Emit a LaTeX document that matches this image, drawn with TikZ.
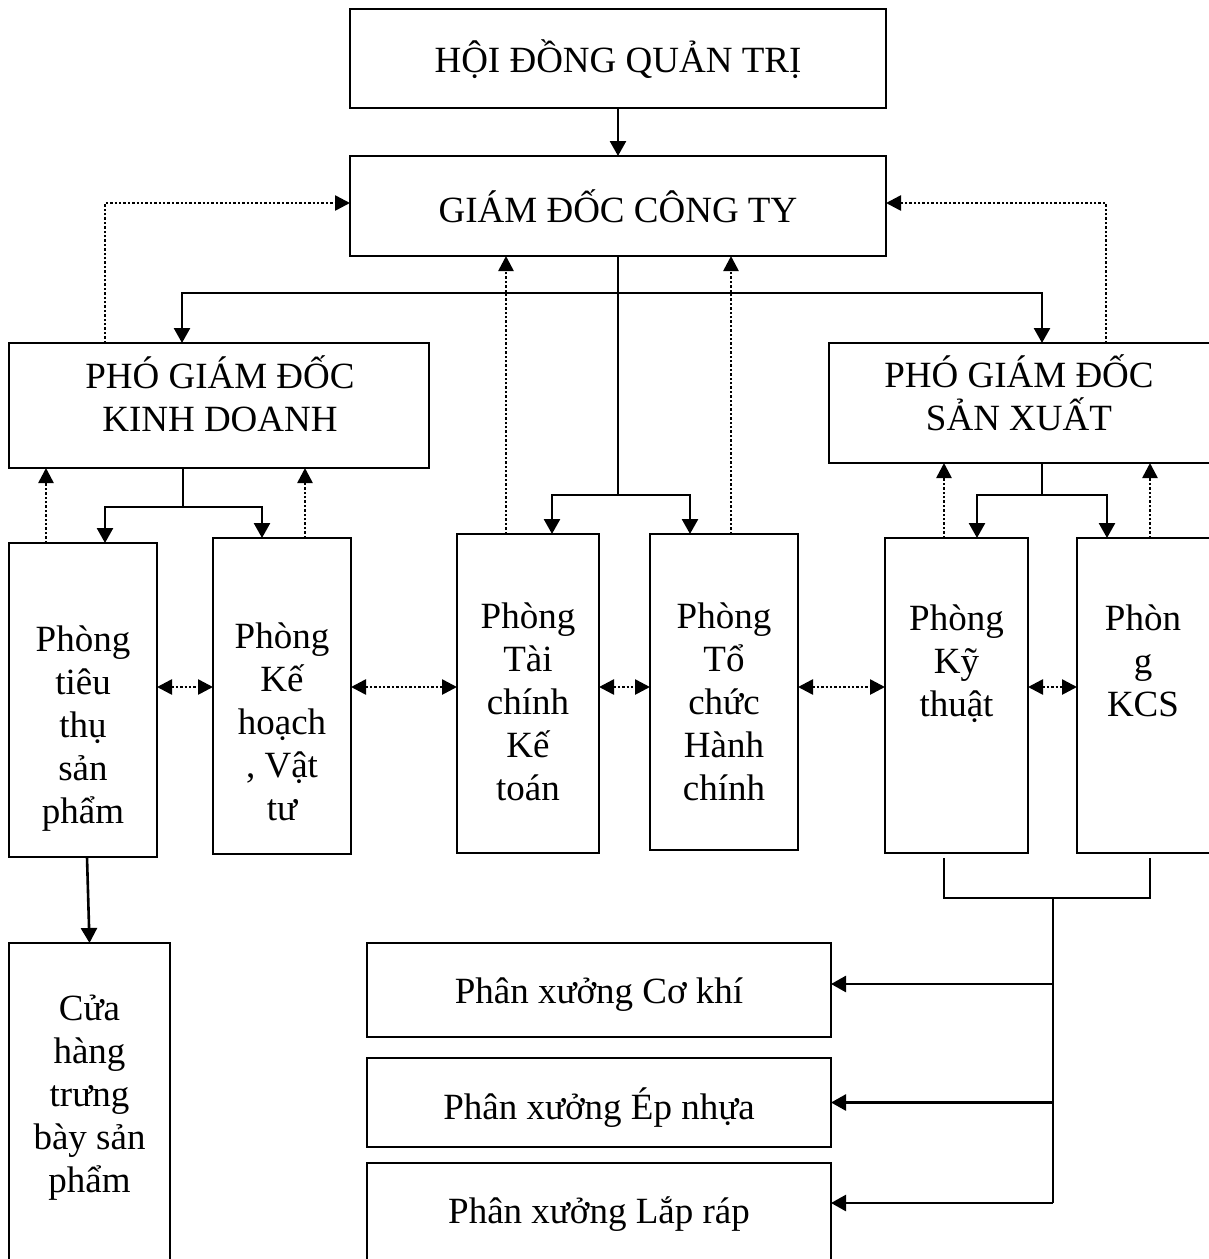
\documentclass[tikz,border=0pt]{standalone}
\usepackage{fontspec}
\setmainfont{Liberation Serif}
\usetikzlibrary{arrows.meta}
\newcommand\tl[1]{\begin{tabular}[t]{@{}c@{}}#1\end{tabular}}
\newcommand\sm[1]{\smash{#1}}
\begin{document}
\begin{tikzpicture}[x=1pt,y=-1pt,
  box/.style={draw, line width=2.2pt, inner sep=0pt, outer sep=0pt, rectangle},
  txt/.style={inner sep=0pt, anchor=base, font=\fontsize{37}{43}\selectfont},
  sarr/.style={line width=2.6pt, -{Triangle[length=15pt,width=16pt]}},
  sline/.style={line width=2.4pt},
  darr/.style={line width=2.6pt, dash pattern=on 2.4pt off 2pt, -{Triangle[length=15pt,width=15pt]}},
  ddarr/.style={line width=2.6pt, dash pattern=on 2.4pt off 2pt, {Triangle[length=15pt,width=15pt]}-{Triangle[length=15pt,width=15pt]}},
]
\useasboundingbox (0,0) rectangle (1209,1259);
\clip (0,0) rectangle (1209,1259);
\fill[white] (0,0) rectangle (1209,1259);

% boxes
\node[box, minimum width=536pt, minimum height=99pt]  (hdqt) at (618,58.5) {};
\node[box, minimum width=536pt, minimum height=100pt] (gd)   at (618,206) {};
\node[box, minimum width=420pt, minimum height=125pt] (kd)   at (219,405.5) {};
\node[box, minimum width=381pt, minimum height=120pt] (sx)   at (1019.5,403) {};
\node[box, minimum width=148pt, minimum height=314pt] (tt)   at (83,700) {};
\node[box, minimum width=138pt, minimum height=316pt] (kh)   at (282,696) {};
\node[box, minimum width=142pt, minimum height=319pt] (tc)   at (528,693.5) {};
\node[box, minimum width=148pt, minimum height=316pt] (tch)  at (724,692) {};
\node[box, minimum width=143pt, minimum height=315pt] (kt)   at (956.5,695.5) {};
\node[box, minimum width=133pt, minimum height=315pt] (kcs)  at (1143.5,695.5) {};
\node[box, minimum width=161pt, minimum height=322pt] (ch)   at (89.5,1104) {};
\node[box, minimum width=464pt, minimum height=94pt]  (px1)  at (599,990) {};
\node[box, minimum width=464pt, minimum height=89pt]  (px2)  at (599,1102.5) {};
\node[box, minimum width=464pt, minimum height=102pt] (px3)  at (599,1214) {};

% texts
\node[txt] (thdqt) at (618,72) {HỘI ĐỒNG QUẢN TRỊ};
\node[txt] (tgd) at (618,222) {GIÁM ĐỐC CÔNG TY};
\node[txt] (tkd) at (220,388) {\tl{PHÓ GIÁM ĐỐC\\\sm{KINH DOANH}}};
\node[txt] (tsx) at (1019,387) {\tl{PHÓ GIÁM ĐỐC\\\sm{SẢN XUẤT}}};
\node[txt] (ttt) at (83,651) {\tl{Phòng\\\sm{tiêu}\\\sm{thụ}\\\sm{sản}\\\sm{phẩm}}};
\node[txt] (tkh) at (282,648) {\tl{Phòng\\\sm{Kế}\\\sm{hoạch}\\\sm{, Vật}\\\sm{tư}}};
\node[txt] (ttc) at (528,628) {\tl{Phòng\\\sm{Tài}\\\sm{chính}\\\sm{Kế}\\\sm{toán}}};
\node[txt] (ttch) at (724,628) {\tl{Phòng\\\sm{Tổ}\\\sm{chức}\\\sm{Hành}\\\sm{chính}}};
\node[txt] (tkt) at (956.5,630) {\tl{Phòng\\\sm{Kỹ}\\\sm{thuật}}};
\node[txt] (tkcs) at (1143,630) {\tl{Phòn\\\sm{g}\\\sm{KCS}}};
\node[txt] (tcuahang) at (89.5,1020) {\tl{Cửa\\\sm{hàng}\\\sm{trưng}\\\sm{bày sản}\\\sm{phẩm}}};
\node[txt] (tpx1) at (599,1003) {Phân xưởng Cơ khí};
\node[txt] (tpx2) at (599,1119) {Phân xưởng Ép nhựa};
\node[txt] (tpx3) at (599,1223) {Phân xưởng Lắp ráp};

% solid connectors
\draw[sarr] (hdqt.south) -- (gd.south |- gd.north);
\draw[sarr] (gd.south) -- ++(0,37) -| ([xshift=-37pt]kd.north);
\draw[sarr] (gd.south) -- ++(0,37) -| ([xshift=22.5pt]sx.north);
\draw[sarr] (gd.south) -- ++(0,239) -| ([xshift=24pt]tc.north);
\draw[sarr] (gd.south) -- ++(0,239) -| ([xshift=-34pt]tch.north);
\draw[sarr] ([xshift=-36pt]kd.south) -- ++(0,39) -| ([xshift=22pt]tt.north);
\draw[sarr] ([xshift=-36pt]kd.south) -- ++(0,39) -| ([xshift=-20pt]kh.north);
\draw[sarr] ([xshift=22.5pt]sx.south) -- ++(0,32) -| ([xshift=20.5pt]kt.north);
\draw[sarr] ([xshift=22.5pt]sx.south) -- ++(0,32) -| ([xshift=-36.5pt]kcs.north);
\draw[sarr] ([xshift=4pt]tt.south) -- (ch.north);

% bottom bus
\draw[sline] ([xshift=-12.5pt,yshift=-5pt]kt.south) -- ++(0,40) -| ([xshift=6.5pt,yshift=-5pt]kcs.south);
\coordinate (bus) at (1053,898);
\coordinate (a1) at ([yshift=6pt]px1.east);
\coordinate (a2) at (px2.east);
\coordinate (a3) at ([yshift=11pt]px3.east);
\draw[sline] (bus) -- (a3 -| bus);
\draw[sarr] (a1 -| bus) -- (a1);
\draw[sarr] (a2 -| bus) -- (a2);
\draw[sarr] (a3 -| bus) -- (a3);

% dotted report lines
\coordinate (d0) at ([xshift=-114pt]kd.north);
\draw[darr] (d0) |- ([yshift=3pt]gd.west);
\coordinate (d0r) at ([xshift=86.5pt]sx.north);
\draw[darr] (d0r) |- ([yshift=3pt]gd.east);
\coordinate (d1) at ([xshift=-22pt]tc.north);
\draw[darr] (d1) -- (d1 |- gd.south);
\coordinate (d2) at ([xshift=7pt]tch.north);
\draw[darr] (d2) -- (d2 |- gd.south);
\coordinate (d3) at ([xshift=-37pt]tt.north);
\draw[darr] (d3) -- (d3 |- kd.south);
\coordinate (d4) at ([xshift=23pt]kh.north);
\draw[darr] (d4) -- (d4 |- kd.south);
\coordinate (d5) at ([xshift=-12.5pt]kt.north);
\draw[darr] (d5) -- (d5 |- sx.south);
\coordinate (d6) at ([xshift=6.5pt]kcs.north);
\draw[darr] (d6) -- (d6 |- sx.south);

% horizontal two-way dotted links
\coordinate (mid) at (0,687);
\draw[ddarr] (tt.east |- mid) -- (kh.west |- mid);
\draw[ddarr] (kh.east |- mid) -- (tc.west |- mid);
\draw[ddarr] (tc.east |- mid) -- (tch.west |- mid);
\draw[ddarr] (tch.east |- mid) -- (kt.west |- mid);
\draw[ddarr] (kt.east |- mid) -- (kcs.west |- mid);
\end{tikzpicture}
\end{document}
